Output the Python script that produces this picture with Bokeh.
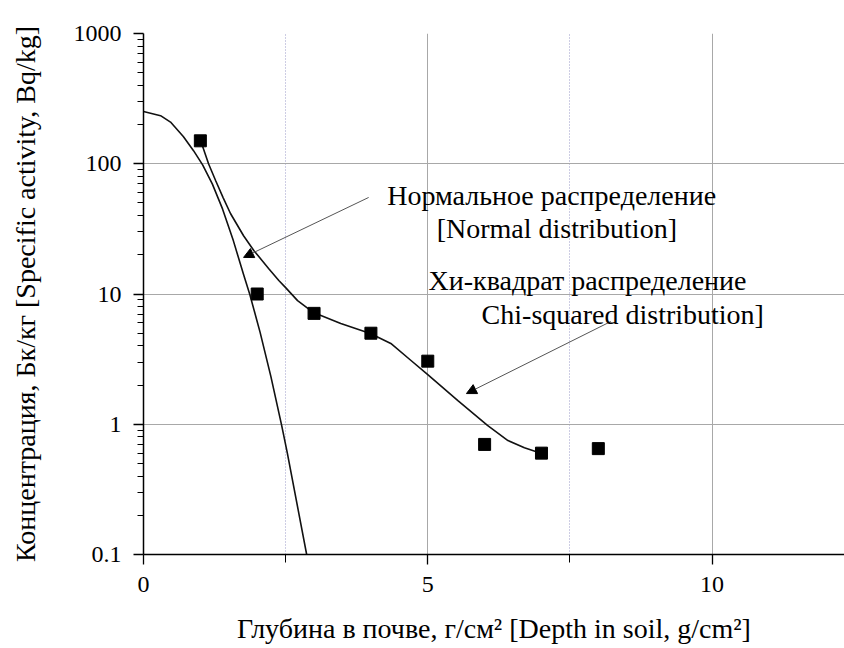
from bokeh.plotting import figure
from bokeh.models import (FixedTicker, CustomJSTickFormatter, Arrow, NormalHead,
                          Label, Range1d)
from bokeh.embed import file_html
from bokeh.resources import INLINE

# measured points
depth_pts = [1, 2, 3, 4, 5, 6, 7, 8]
activity_pts = [150, 10, 7.1, 5.0, 3.05, 0.70, 0.60, 0.65]

# normal distribution fit curve
normal_x = [0, 0.30, 0.475, 0.70, 0.88, 1.04, 1.21, 1.39, 1.58, 1.76, 1.87, 2.05, 2.24, 2.43, 2.53, 2.87]
normal_y = [252, 234, 209, 162, 126, 98, 70, 45, 25.7, 14.1, 9.9, 5.1, 2.33, 0.98, 0.60, 0.10]

# chi-squared distribution fit curve
chi_x = [1.03, 1.144, 1.27, 1.40, 1.53, 1.76, 1.94, 2.20, 2.38, 2.50, 2.71, 2.99, 3.47, 3.99,
         4.35, 4.70, 5.00, 5.53, 6.05, 6.41, 6.70, 6.99]
chi_y = [140, 100, 74, 55, 41.5, 28.0, 21.6, 15.7, 12.7, 11.2, 8.9, 7.2, 5.94, 4.98,
         4.17, 3.1, 2.4, 1.52, 0.98, 0.75, 0.66, 0.60]

x_major = [0, 5, 10]
x_minor = [2.5, 7.5]
y_major = [0.1, 1, 10, 100, 1000]
y_minor = [k * 10.0 ** e for e in range(-1, 3) for k in range(2, 10)]

x_title = "Глубина в почве, г/см² [Depth in soil, g/cm²]"
y_title = "Концентрация, Бк/кг [Specific activity, Bq/kg]"

FONT = "Liberation Serif"

p = figure(width=844, height=648, y_axis_type="log",
           x_range=Range1d(0, 12.33), y_range=Range1d(0.1, 1000),
           output_backend="svg", toolbar_location=None,
           min_border_left=143, min_border_right=0,
           min_border_top=33, min_border_bottom=94)
p.outline_line_color = None
p.background_fill_color = "white"

xt = FixedTicker(ticks=x_major, minor_ticks=x_minor)
yt = FixedTicker(ticks=y_major, minor_ticks=y_minor)
p.xaxis.ticker = xt
p.yaxis.ticker = yt
p.xgrid.ticker = xt
p.ygrid.ticker = yt
p.yaxis.formatter = CustomJSTickFormatter(code="return tick < 1 ? tick.toFixed(1) : tick.toFixed(0);")

for ax in (p.xaxis[0], p.yaxis[0]):
    ax.axis_line_color = "black"
    ax.axis_line_width = 1.5
    ax.major_tick_line_color = "black"
    ax.minor_tick_line_color = "black"
    ax.major_tick_line_width = 1.3
    ax.minor_tick_line_width = 1
    ax.major_tick_in = 0
    ax.major_tick_out = 10
    ax.minor_tick_in = 0
    ax.major_label_text_font = FONT
    ax.major_label_text_font_size = "24px"
    ax.major_label_text_color = "black"
    ax.axis_label_text_font = FONT
    ax.axis_label_text_font_size = "28px"
    ax.axis_label_text_font_style = "normal"
    ax.axis_label_text_color = "black"

p.xaxis.minor_tick_out = 8
p.yaxis.minor_tick_out = 6
p.xaxis.major_label_standoff = 12
p.yaxis.major_label_standoff = 12
p.xaxis.axis_label = x_title
p.yaxis.axis_label = y_title
p.xaxis.axis_label_standoff = 18
p.yaxis.axis_label_standoff = 30

p.xgrid.grid_line_color = "#a8a8a8"
p.xgrid.grid_line_width = 1
p.xgrid.minor_grid_line_color = "#9a9ac8"
p.xgrid.minor_grid_line_dash = "1 2"
p.xgrid.minor_grid_line_width = 1
p.ygrid.grid_line_color = "#a8a8a8"
p.ygrid.grid_line_width = 1

p.line(normal_x, normal_y, line_color="#111111", line_width=1.6)
p.line(chi_x, chi_y, line_color="#111111", line_width=1.6)
p.scatter(depth_pts, activity_pts, marker="square", size=12,
          fill_color="black", line_color="black")

# arrows
p.add_layout(Arrow(x_start=3.96, y_start=55.1, x_end=1.76, y_end=19.1,
                   line_color="#555555", line_width=1,
                   end=NormalHead(size=10, fill_color="black", line_color="black")))
p.add_layout(Arrow(x_start=8.22, y_start=6.15, x_end=5.68, y_end=1.72,
                   line_color="#555555", line_width=1,
                   end=NormalHead(size=10, fill_color="black", line_color="black")))

labels = [
    ("Нормальное распределение", 7.18, 57.0),
    ("[Normal distribution]", 7.27, 31.8),
    ("Хи-квадрат распределение", 7.81, 12.7),
    ("Chi-squared distribution]", 8.43, 6.97),
]
for txt, lx, ly in labels:
    p.add_layout(Label(x=lx, y=ly, text=txt, text_font=FONT, text_font_size="28px",
                       text_align="center", text_baseline="middle", text_color="black"))

open("out.html", "w").write(file_html(p, INLINE))
